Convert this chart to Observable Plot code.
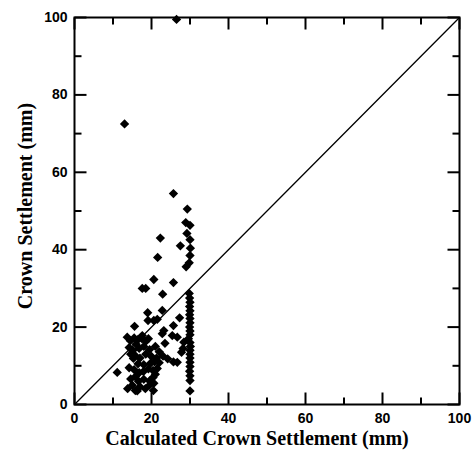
<!DOCTYPE html>
<html><head><meta charset="utf-8">
<script src="https://cdn.jsdelivr.net/npm/d3@7"></script>
<script src="https://cdn.jsdelivr.net/npm/@observablehq/plot@0.6"></script>
<style>
body{margin:0;background:#fff}
#chart svg{display:block}
</style></head><body><div id="chart"></div>
<script>
// Calculated crown settlement (mm)
const calculated = [
  26.5,13,25.7,22.3,21.6,20.6,25.7,17.6,18.5,22.9,
  29.3,28.9,30,29.2,30,27.5,30.1,30,29.8,29,
  29.8,29.9,30,29.9,30,29.9,30,30,29.9,30,30,29.6,30,30.1,30,30,30,30,30,29.9,30,30,30,
  28.4,27.8,26.7,26.7,27.3,25.7,25.4,28.2,
  19,22.8,19.1,20.6,21.5,15.6,23.2,22.8,17.6,13.7,23.5,
  11.1,
  14.5,15.5,16.5,17.5,18.5,19.2,16,14.2,15.2,16.8,18,19.5,21,22,14.6,15.8,17,18.5,20,21.3,23,24.2,25.7,
  15.3,16.5,18,19.7,20.8,22,14.2,15.5,16.8,17.9,19.2,20.4,21.5,14.6,15.8,16.6,18,19.5,20.4,21,20.6,
  13.8,15,15.8,17,18.4,19.5,20.5,16.3
];
// Measured crown settlement (mm)
const measured = [
  99.5,72.5,54.5,43,38,32.3,31.5,30,30,28.5,
  50.5,47,46.3,44.2,42.6,41,40.4,38.5,36.6,35.6,
  28.7,27.5,26.4,25.3,24.2,23.2,22.2,21.1,20,19,18,17,16,15,14,13,12,10.9,9.8,8.6,7.4,6.2,3.5,
  16.1,13.5,17.4,10.9,22.4,20.4,17.8,14.5,
  23.7,24.3,21.7,21.7,22,20.2,19.1,18.3,17.8,17.4,15.8,
  8.3,
  16.5,17.2,16.8,17,16.3,17,15.6,14.7,14,14.5,15,14.2,15,13.6,13,12.6,12,13,12.4,12,12.5,11.8,11,
  11.9,10.5,10.3,10.6,11,10.8,9.5,9,8.2,8.5,9.2,8.8,9.3,6.6,7.2,6,6.5,6.1,7,7.8,5.5,
  4.1,5,3.6,4.6,4.1,5,3.6,3.5
];
const majorTicks = [0, 20, 40, 60, 80, 100];
const minorTicks = [10, 30, 50, 70, 90];
const axisRange = [0, 100];
const equalityLine = [0, 100];
const xTitle = "Calculated Crown Settlement (mm)";
const yTitle = "Crown Settlement (mm)";

const points = calculated.map((c, i) => ({x: c, y: measured[i]}));
const diag = equalityLine.map(v => ({x: v, y: v}));

const W = 474, H = 451, ML = 74, MR = 15, MT = 17, MB = 47;
const FW = W - ML - MR, FH = H - MT - MB;
const MAJ = 12, MIN = 7; // tick lengths in pixels
const [lo, hi] = axisRange;
const span = hi - lo;

// inward tick segments on all four sides (pixel lengths converted to the axis span)
const tickSegs = [];
for (const [ticks, len] of [[majorTicks, MAJ], [minorTicks, MIN]]) {
  const dy = len / FH * span, dx = len / FW * span;
  for (const t of ticks) {
    tickSegs.push({x1: t, x2: t, y1: lo, y2: lo + dy});   // bottom
    tickSegs.push({x1: t, x2: t, y1: hi, y2: hi - dy});   // top
    tickSegs.push({x1: lo, x2: lo + dx, y1: t, y2: t});   // left
    tickSegs.push({x1: hi, x2: hi - dx, y1: t, y2: t});   // right
  }
}

const labelFont = {fontFamily: "'Liberation Sans', Arial, sans-serif", fontWeight: "bold", fontSize: 14, fill: "#000"};
const titleFont = {fontFamily: "'Liberation Serif', 'Times New Roman', serif", fontWeight: "bold", fontSize: 20, fill: "#000"};

const chart = Plot.plot({
  width: W, height: H,
  marginLeft: ML, marginRight: MR, marginTop: MT, marginBottom: MB,
  x: {domain: axisRange, axis: null},
  y: {domain: axisRange, axis: null},
  style: {background: "#fff", color: "#000"},
  marks: [
    Plot.line(diag, {x: "x", y: "y", stroke: "#000", strokeWidth: 1.3}),
    Plot.dot(points, {x: "x", y: "y", symbol: "diamond2", r: 4.2, fill: "#000", stroke: null}),
    Plot.link(tickSegs, {x1: "x1", y1: "y1", x2: "x2", y2: "y2", stroke: "#000", strokeWidth: 2}),
    Plot.frame({stroke: "#000", strokeWidth: 2}),
    Plot.text([...majorTicks], {x: d => d, text: d => String(d), frameAnchor: "bottom", lineAnchor: "top", textAnchor: "middle", dy: 9, ...labelFont}),
    Plot.text([...majorTicks], {y: d => d, text: d => String(d), frameAnchor: "left", lineAnchor: "middle", textAnchor: "end", dx: -7, ...labelFont}),
    Plot.text([xTitle], {text: d => d, frameAnchor: "bottom", textAnchor: "middle", lineAnchor: "bottom", dx: -10, dy: 40, ...titleFont}),
    Plot.text([yTitle], {text: d => d, frameAnchor: "left", textAnchor: "middle", lineAnchor: "middle", rotate: -90, dx: -49, dy: -5, ...titleFont})
  ]
});
document.getElementById("chart").append(chart);
</script>
</body></html>
